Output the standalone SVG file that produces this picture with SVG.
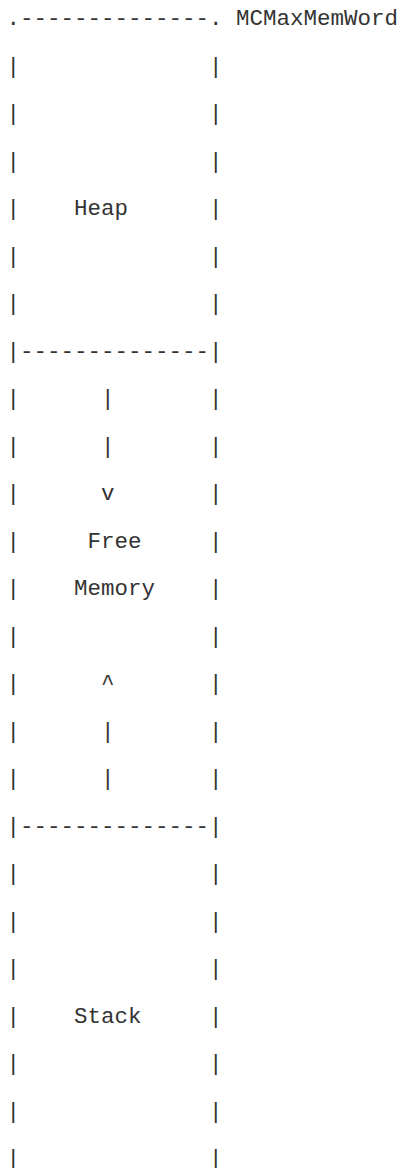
<svg xmlns="http://www.w3.org/2000/svg" width="403" height="1168" viewBox="0 0 403 1168" xml:space="preserve">
<style>
text { font-family: "Liberation Mono", "DejaVu Sans Mono", monospace; font-size: 22.5px; fill: #333; white-space: pre; }
.l { } .r { }
</style>
<rect x="0" y="0" width="403" height="1168" fill="#ffffff"/>
<g id="heap">
<text x="6.5" y="25">.--------------. MCMaxMemWord</text>
<text x="6.5" y="72.5">|              |</text>
<text x="6.5" y="120">|              |</text>
<text x="6.5" y="167.5">|              |</text>
<text x="6.5" y="215">|    Heap      |</text>
<text x="6.5" y="262.5">|              |</text>
<text x="6.5" y="310">|              |</text>
<text x="6.5" y="357.5">|--------------|</text>
</g>
<g id="free-memory">
<text x="6.5" y="405">|</text><text x="209" y="405">|</text>
<text x="6.5" y="452.5">|</text><text x="209" y="452.5">|</text>
<text x="6.5" y="500">|</text><text x="209" y="500">|</text>
<text x="6.5" y="547.5">|     Free     |</text>
<text x="6.5" y="595">|    Memory    |</text>
<text x="6.5" y="642.5">|              |</text>
<text x="6.5" y="690">|</text><text x="209" y="690">|</text>
<text x="6.5" y="737.5">|</text><text x="209" y="737.5">|</text>
<text x="6.5" y="785">|</text><text x="209" y="785">|</text>
</g>
<g id="connectors">
<text x="101" y="405">|</text>
<text x="101" y="452.5">|</text>
<text x="101" y="500">v</text>
<text x="101" y="690">^</text>
<text x="101" y="737.5">|</text>
<text x="101" y="785">|</text>
</g>
<g id="stack">
<text x="6.5" y="832.5">|--------------|</text>
<text x="6.5" y="880">|              |</text>
<text x="6.5" y="927.5">|              |</text>
<text x="6.5" y="975">|              |</text>
<text x="6.5" y="1022.5">|    Stack     |</text>
<text x="6.5" y="1070">|              |</text>
<text x="6.5" y="1117.5">|              |</text>
<text x="6.5" y="1165">|              |</text>
</g>
</svg>
